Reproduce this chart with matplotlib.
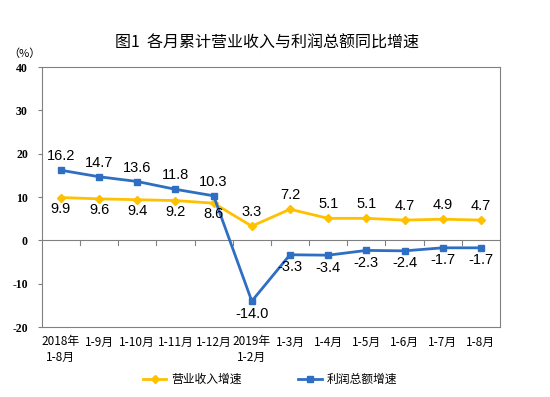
import matplotlib
matplotlib.use("Agg")
import matplotlib.pyplot as plt
import numpy as np

plt.rcParams['font.family'] = ['Noto Sans CJK SC', 'DejaVu Sans']

categories = ['2018年\n1-8月', '1-9月', '1-10月', '1-11月', '1-12月', '2019年\n1-2月',
              '1-3月', '1-4月', '1-5月', '1-6月', '1-7月', '1-8月']
revenue = [9.9, 9.6, 9.4, 9.2, 8.6, 3.3, 7.2, 5.1, 5.1, 4.7, 4.9, 4.7]
profit = [16.2, 14.7, 13.6, 11.8, 10.3, -14.0, -3.3, -3.4, -2.3, -2.4, -1.7, -1.7]
yticks = [-20, -10, 0, 10, 20, 30, 40]

yellow = '#FFC000'
blue = '#2E6FC4'

fig = plt.figure(figsize=(5.5, 3.97), dpi=100)
ax = fig.add_axes([0.076, 0.176, 0.833, 0.655])

x = np.arange(len(categories))
ax.plot(x, revenue, color=yellow, lw=2, marker='D', ms=4, label='营业收入增速', zorder=3)
ax.plot(x, profit, color=blue, lw=2, marker='s', ms=4, label='利润总额增速', zorder=3)

# data labels: first five months profit above / revenue below, then swapped
lbl = dict(textcoords='offset points', ha='center', fontsize=10.5, family='Liberation Sans')
for i in range(len(x)):
    if i < 5:
        ax.annotate(f'{revenue[i]:.1f}', (x[i], revenue[i]), xytext=(0, -3), va='top', **lbl)
        ax.annotate(f'{profit[i]:.1f}', (x[i], profit[i]), xytext=(0, 5), va='bottom', **lbl)
    else:
        ax.annotate(f'{revenue[i]:.1f}', (x[i], revenue[i]), xytext=(0, 5), va='bottom', **lbl)
        ax.annotate(f'{profit[i]:.1f}', (x[i], profit[i]), xytext=(0, -4), va='top', **lbl)

ax.set_xlim(-0.5, len(x) - 0.5)
ax.set_ylim(-20, 40)
ax.set_yticks(yticks)
ax.set_yticklabels([str(v) for v in yticks], family='Liberation Serif', fontsize=8.5, fontweight='bold')
ax.tick_params(axis='y', direction='out', length=3, color='#808080', pad=7)

# category labels under the plot, ticks on the zero line between categories
ax.set_xticks(x)
ax.set_xticklabels(categories, fontsize=8.5, linespacing=1.2)
ax.tick_params(axis='x', length=0, pad=6)
ax.axhline(0, color='#808080', lw=0.8, zorder=1)
for b in np.arange(0.5, len(x) - 0.5, 1):
    ax.plot([b, b], [0, -1], color='#808080', lw=0.8, zorder=1)

for s in ax.spines.values():
    s.set_color('#808080')
    s.set_linewidth(0.8)

fig.text(0.485, 0.89, '图1  各月累计营业收入与利润总额同比增速', ha='center', va='center', fontsize=11.5)
fig.text(0.045, 0.865, '（%）', ha='center', va='center', fontsize=8)

fig.legend(loc='center', bbox_to_anchor=(0.491, 0.045), ncol=2, frameon=False,
           fontsize=8.5, columnspacing=4.8, handlelength=2.0, handletextpad=0.4)

fig.savefig('out.png', dpi=100)
